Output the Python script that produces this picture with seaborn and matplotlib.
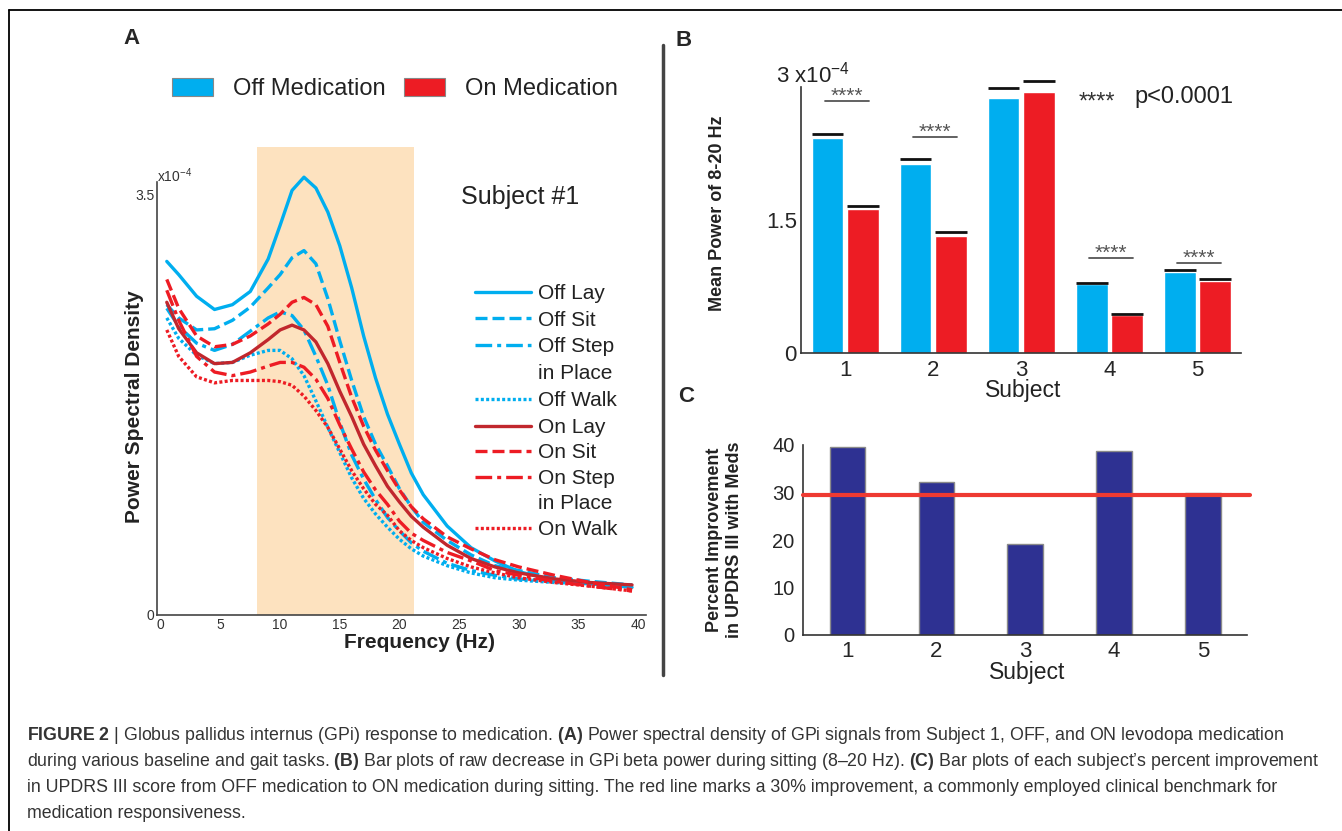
## Redraw of GPi medication figure: PSD curves (A), beta power bars (B), UPDRS bars (C)

## Imports
import numpy as np
import pandas as pd
import seaborn as sns
import matplotlib.pyplot as plt
from matplotlib.lines import Line2D
from matplotlib.patches import Patch

## Data
# Panel A - power spectral density of subject 1 (x1e-4)
freq = [0.5, 1.5, 3, 4.5, 6, 7.5, 9, 10, 11, 12, 13, 14, 15, 16, 17, 18, 19, 20,
        21, 22, 24, 26, 28, 30, 33, 36, 39.5]
off_lay = [2.94, 2.83, 2.65, 2.54, 2.58, 2.69, 2.96, 3.24, 3.53, 3.64, 3.55, 3.35, 3.07, 2.72,
           2.32, 1.97, 1.67, 1.42, 1.18, 1.00, 0.74, 0.56, 0.45, 0.36, 0.29, 0.26, 0.23]
off_sit = [2.58, 2.47, 2.37, 2.38, 2.45, 2.56, 2.72, 2.83, 2.97, 3.03, 2.92, 2.63, 2.28, 1.95,
           1.65, 1.42, 1.24, 1.05, 0.90, 0.77, 0.62, 0.50, 0.41, 0.37, 0.31, 0.28, 0.25]
off_step = [2.55, 2.40, 2.26, 2.20, 2.25, 2.36, 2.47, 2.52, 2.49, 2.37, 2.15, 1.91, 1.60, 1.33,
            1.13, 0.96, 0.81, 0.70, 0.60, 0.53, 0.43, 0.37, 0.33, 0.30, 0.28, 0.26, 0.25]
off_walk = [2.47, 2.30, 2.16, 2.09, 2.10, 2.16, 2.20, 2.20, 2.13, 1.99, 1.78, 1.56, 1.35, 1.14,
            0.97, 0.84, 0.73, 0.63, 0.55, 0.49, 0.41, 0.35, 0.31, 0.29, 0.27, 0.26, 0.25]
on_lay = [2.60, 2.38, 2.18, 2.09, 2.10, 2.18, 2.29, 2.37, 2.41, 2.37, 2.27, 2.09, 1.86, 1.65,
          1.42, 1.24, 1.07, 0.94, 0.82, 0.73, 0.58, 0.47, 0.40, 0.35, 0.30, 0.27, 0.25]
on_sit = [2.79, 2.55, 2.32, 2.23, 2.25, 2.32, 2.42, 2.50, 2.60, 2.64, 2.58, 2.40, 2.10, 1.81,
          1.57, 1.37, 1.20, 1.04, 0.90, 0.80, 0.65, 0.55, 0.46, 0.40, 0.33, 0.27, 0.21]
on_step = [2.70, 2.45, 2.15, 2.02, 1.99, 2.02, 2.07, 2.10, 2.10, 2.06, 1.96, 1.80, 1.58, 1.38,
           1.19, 1.04, 0.92, 0.78, 0.68, 0.62, 0.52, 0.45, 0.37, 0.33, 0.28, 0.24, 0.20]
on_walk = [2.37, 2.15, 1.98, 1.93, 1.95, 1.95, 1.95, 1.94, 1.91, 1.82, 1.70, 1.56, 1.38, 1.20,
           1.05, 0.92, 0.83, 0.70, 0.62, 0.56, 0.47, 0.40, 0.35, 0.31, 0.27, 0.24, 0.20]
cond_labels = ['Off Lay', 'Off Sit', 'Off Step in Place', 'Off Walk',
               'On Lay', 'On Sit', 'On Step in Place', 'On Walk']
beta_band = [8.1, 21.2]

# Panel B - mean power 8-20 Hz (x1e-4)
subjects = ['1', '2', '3', '4', '5']
off_power = [2.42, 2.13, 2.87, 0.77, 0.91]
on_power = [1.62, 1.32, 2.94, 0.43, 0.81]
off_err = [0.05, 0.05, 0.11, 0.02, 0.02]
on_err = [0.03, 0.04, 0.12, 0.01, 0.02]
sig_y = [2.84, 2.43, None, 1.07, 1.01]

# Panel C - percent improvement in UPDRS III
updrs_improve = [39.5, 32.3, 19.1, 38.8, 30.0]
benchmark = 29.5

## Style
sns.set_style('white')
plt.rcParams['font.family'] = ['Liberation Sans', 'DejaVu Sans']
plt.rcParams['mathtext.fontset'] = 'custom'
plt.rcParams['mathtext.rm'] = 'Liberation Sans'
plt.rcParams['mathtext.it'] = 'Liberation Sans:italic'
plt.rcParams['mathtext.bf'] = 'Liberation Sans:bold'

BLUE = '#00aeef'
RED = '#ed1c24'
DARK_RED = '#c1272d'
W, H = 1342, 831


def fx(x):
    return x / W


def fy(y):
    return 1 - y / H


fig = plt.figure(figsize=(W / 100, H / 100), dpi=100)

## Panel A
axA = fig.add_axes([fx(157), fy(615), 489 / W, 433 / H])
axA.axvspan(beta_band[0], beta_band[1], ymin=0, ymax=1.08, color='#fde2bf',
            lw=0, clip_on=False, zorder=0)

series = [off_lay, off_sit, off_step, off_walk, on_lay, on_sit, on_step, on_walk]
dfA = pd.DataFrame({
    'freq': freq * len(series),
    'psd': [v for s in series for v in s],
    'cond': [c for c in cond_labels for _ in freq],
})
palA = dict(zip(cond_labels, [BLUE] * 4 + [DARK_RED, RED, RED, RED]))
dash_styles = ['', (3.6, 1.5), (5, 1.5, 1.2, 1.5), (0.9, 0.7)]
dashA = dict(zip(cond_labels, dash_styles * 2))
sns.lineplot(data=dfA, x='freq', y='psd', hue='cond', style='cond', palette=palA,
             dashes=dashA, lw=2.4, errorbar=None, legend=False, sort=False,
             clip_on=False, ax=axA)

axA.set_xlim(-0.32, 40.67)
axA.set_ylim(0, 3.6)
axA.set_xticks(range(0, 41, 5))
axA.set_yticks([0, 3.5])
axA.set_yticklabels(['0', '3.5'])
axA.tick_params(length=0, labelsize=10, labelcolor='#333', pad=2)
axA.set_xlabel('')
axA.set_ylabel('')
sns.despine(ax=axA)
for s in ['left', 'bottom']:
    axA.spines[s].set_color('#444')
    axA.spines[s].set_linewidth(1.2)

# condition legend: two groups of rows, "in Place" wraps onto a row without a line
blank = Line2D([], [], color='none')
lines_a = axA.lines[:len(cond_labels)]
for g, (top, spacing) in enumerate([(284, 0.37), (418, 0.31)]):
    grp = lines_a[4 * g:4 * g + 4]
    names = cond_labels[4 * g:4 * g + 4]
    handles = [grp[0], grp[1], grp[2], blank, grp[3]]
    labels = [names[0], names[1], names[2].replace(' in Place', ''), 'in Place', names[3]]
    leg = axA.legend(handles, labels, loc='upper left',
                     bbox_to_anchor=(fx(475), fy(top)), bbox_transform=fig.transFigure,
                     frameon=False, fontsize=15, handlelength=2.67, handletextpad=0.34,
                     labelspacing=spacing, borderpad=0, borderaxespad=0, labelcolor='#222')
    if g == 0:
        axA.add_artist(leg)

fig.text(fx(157), fy(176), r'x10$^{-4}$', fontsize=10, color='#333', va='center')
fig.text(fx(461), fy(197), 'Subject #1', fontsize=18, color='#222', va='center')
fig.text(fx(134), fy(407), 'Power Spectral Density', rotation=90, fontsize=15,
         fontweight='bold', color='#222', ha='center', va='center')
fig.text(fx(419), fy(643), 'Frequency (Hz)', fontsize=15, fontweight='bold',
         color='#222', ha='center', va='center')

# medication legend above panel A
fig.legend(handles=[Patch(fc=BLUE, ec='#888', lw=0.8), Patch(fc=RED, ec='#888', lw=0.8)],
           labels=['Off Medication', 'On Medication'], loc='center left',
           bbox_to_anchor=(fx(172), fy(89)), ncol=2, frameon=False, fontsize=17,
           handlelength=1.74, handleheight=0.8, handletextpad=0.85,
           columnspacing=0.78, borderpad=0, borderaxespad=0, labelcolor='#222')

## Panel B
axB = fig.add_axes([fx(801), fy(352.7), 440.4 / W, 266 / H])
dfB = pd.DataFrame({
    'Subject': subjects * 2,
    'Power': off_power + on_power,
    'Medication': ['Off'] * len(subjects) + ['On'] * len(subjects),
})
sns.barplot(data=dfB, x='Subject', y='Power', hue='Medication',
            palette={'Off': BLUE, 'On': RED}, saturation=1, width=0.8, gap=0.1,
            edgecolor='white', linewidth=1, errorbar=None, legend=False, ax=axB)

# upper error caps
bars = sorted(axB.patches, key=lambda p: p.get_x())
errs = [e for pair in zip(off_err, on_err) for e in pair]
for p, e in zip(bars, errs):
    axB.plot([p.get_x(), p.get_x() + p.get_width()], [p.get_height() + e] * 2,
             color='#111', lw=2, solid_capstyle='butt', clip_on=False)

# significance bars
for i, y in enumerate(sig_y):
    if y is None:
        continue
    axB.plot([i - 0.23, i + 0.27], [y, y], color='#555', lw=1.3)
    axB.text(i + 0.02, y - 0.01, '****', ha='center', va='baseline',
             fontsize=15, color='#555')

axB.set_xlim(-0.5, 4.5)
axB.set_ylim(0, 3)
axB.set_yticks([0, 1.5, 3])
axB.set_yticklabels(['0', '1.5', ''])
axB.set_xticks(range(len(subjects)))
axB.set_xticklabels(subjects)
axB.set_xticks(np.arange(len(subjects)) + 0.5, minor=True)
axB.tick_params(axis='x', which='major', length=0, labelsize=16, pad=5)
axB.tick_params(axis='x', which='minor', direction='in', length=5, color='#333')
axB.tick_params(axis='y', direction='in', length=6, color='#333', labelsize=16, pad=3)
axB.set_xlabel('')
axB.set_ylabel('')
sns.despine(ax=axB)
for s in ['left', 'bottom']:
    axB.spines[s].set_color('#333')
    axB.spines[s].set_linewidth(1.2)

fig.text(fx(776), fy(75), r'3 x10$^{-4}$', fontsize=16, color='#222', va='center')
fig.text(fx(1097), fy(103), '****', fontsize=17, color='#333', ha='center', va='center')
fig.text(fx(1134), fy(97), 'p<0.0001', fontsize=17, color='#222', va='center')
fig.text(fx(1023), fy(390), 'Subject', fontsize=16.5, color='#222', ha='center', va='center')
fig.text(fx(717.5), fy(213), 'Mean Power of 8-20 Hz', rotation=90, fontsize=13,
         fontweight='bold', color='#222', ha='center', va='center')

## Panel C
axC = fig.add_axes([fx(803), fy(635), 444.4 / W, 190 / H])
sns.barplot(x=subjects, y=updrs_improve, color='#2e3192', saturation=1, width=0.4,
            edgecolor='#8a8a8a', linewidth=1, errorbar=None, ax=axC)
axC.axhline(benchmark, xmin=0, xmax=1.005, color='#ee3a32', lw=3, clip_on=False, zorder=4)

axC.set_xlim(-0.5, 4.5)
axC.set_ylim(0, 40)
axC.set_yticks(range(0, 41, 10))
axC.set_xticks([len(subjects) - 0.5], minor=True)
axC.tick_params(axis='x', which='major', length=0, labelsize=16, pad=4)
axC.tick_params(axis='x', which='minor', direction='in', length=5, color='#333')
axC.tick_params(axis='y', direction='out', length=4, color='#333', labelsize=14.5, pad=2)
axC.set_xlabel('')
axC.set_ylabel('')
sns.despine(ax=axC)
for s in ['left', 'bottom']:
    axC.spines[s].set_color('#333')
    axC.spines[s].set_linewidth(1.2)

fig.text(fx(1027), fy(673), 'Subject', fontsize=16.5, color='#222', ha='center', va='center')
fig.text(fx(724.5), fy(540), 'Percent Improvement\nin UPDRS III with Meds', rotation=90,
         fontsize=13, fontweight='bold', color='#222', ha='center', va='center',
         multialignment='center')

## Panel letters, divider and frame
fig.text(fx(132), fy(39), 'A', fontsize=16, fontweight='bold', ha='center', va='center')
fig.text(fx(684), fy(40), 'B', fontsize=16, fontweight='bold', ha='center', va='center')
fig.text(fx(686), fy(397), 'C', fontsize=16, fontweight='bold', ha='center', va='center')
fig.add_artist(Line2D([fx(663), fx(663)], [fy(45), fy(675)], color='#444', lw=2.5))
fig.add_artist(Line2D([fx(9), 1], [fy(10), fy(10)], color='black', lw=1.3))
fig.add_artist(Line2D([fx(9), fx(9)], [0, fy(10)], color='black', lw=1.3))

## Caption
caption = [
    r'$\bf{FIGURE\ 2}$ | Globus pallidus internus (GPi) response to medication. $\bf{(A)}$ Power '
    r'spectral density of GPi signals from Subject 1, OFF, and ON levodopa medication',
    r'during various baseline and gait tasks. $\bf{(B)}$ Bar plots of raw decrease in GPi beta '
    r'power during sitting (8–20 Hz). $\bf{(C)}$ Bar plots of each subject’s percent improvement',
    'in UPDRS III score from OFF medication to ON medication during sitting. The red line marks '
    'a 30% improvement, a commonly employed clinical benchmark for',
    'medication responsiveness.',
]
for k, line in enumerate(caption):
    fig.text(fx(27), fy(736 + 25.7 * k), line, fontsize=12.8, color='#333', va='center')

plt.savefig('out.png', dpi=100)
plt.close()
